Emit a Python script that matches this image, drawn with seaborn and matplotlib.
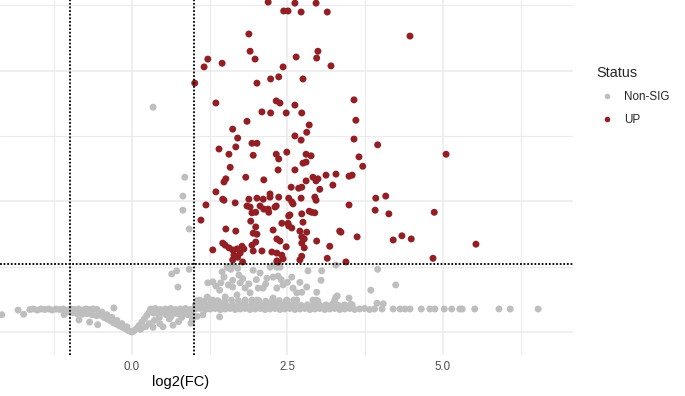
import numpy as np
import pandas as pd
import matplotlib
matplotlib.use("Agg")
import matplotlib.pyplot as plt
import seaborn as sns

# ==========================================
# Data (log2 fold change vs -log10 p)
# ==========================================
up_log2fc = [
    2.19, 2.62, 2.96, 2.44, 2.51, 2.72, 3.14, 1.88, 4.47, 1.90,
    2.99, 1.98, 1.22, 1.45, 1.16, 2.64, 2.97, 2.43, 3.20, 2.36,
    2.23, 2.01, 2.75, 1.01, 1.35, 2.32, 2.38, 2.62, 2.09, 2.23,
    2.48, 2.73, 1.85, 2.85, 1.62, 2.81, 1.70, 2.62, 2.72, 1.93,
    2.01, 1.40, 1.67, 1.56, 1.95, 2.32, 2.49, 2.36, 2.80, 2.88,
    1.58, 2.35, 2.62, 2.75, 2.80, 1.83, 1.51, 1.48, 2.12, 2.80,
    2.91, 2.99, 3.12, 3.28, 3.49, 3.02, 3.23, 2.56, 2.68, 1.35,
    2.22, 2.22, 2.36, 2.52, 1.88, 2.01, 2.11, 2.72, 2.94, 1.46,
    3.57, 3.60, 3.57, 3.95, 3.65, 3.71, 3.54, 3.92, 4.08, 5.05,
    1.48, 1.66, 1.19, 1.90, 1.93, 1.99, 2.06, 2.19, 2.20, 2.32,
    2.57, 2.59, 2.54, 2.51, 2.41, 2.57, 1.11, 1.91, 1.99, 1.51,
    1.67, 1.95, 2.01, 2.27, 2.33, 2.38, 2.48, 2.70, 2.81, 2.77,
    2.73, 2.97, 2.77, 1.30, 1.46, 1.50, 1.56, 1.62, 1.69, 1.77,
    1.80, 1.64, 1.69, 1.70, 1.62, 1.78, 1.93, 1.99, 1.95, 2.09,
    2.25, 2.33, 2.41, 2.43, 2.33, 2.70, 2.73, 2.12, 1.85, 2.30,
    2.52, 2.52, 2.73, 2.75, 2.73, 2.89, 2.94, 3.18, 3.14, 3.34,
    3.44, 2.96, 2.73, 2.96, 3.49, 2.85, 3.91, 4.13, 4.86, 3.36,
    3.62, 4.20, 4.34, 4.49, 4.84, 5.53, 1.74, 2.35,
]
up_neglog10p = [
    6.31, 6.29, 6.29, 6.14, 6.14, 6.12, 6.12, 5.70, 5.66, 5.37,
    5.37, 5.22, 5.22, 5.14, 5.07, 5.26, 5.24, 5.07, 5.09, 4.88,
    4.84, 4.76, 4.84, 4.76, 4.38, 4.42, 4.38, 4.34, 4.21, 4.19,
    4.19, 4.19, 4.03, 3.96, 3.88, 3.82, 3.71, 3.75, 3.67, 3.61,
    3.61, 3.50, 3.54, 3.40, 3.38, 3.40, 3.44, 3.31, 3.40, 3.37,
    3.15, 3.10, 3.10, 3.23, 3.25, 2.96, 2.93, 2.87, 2.91, 2.89,
    2.96, 2.93, 3.00, 3.02, 2.98, 2.73, 2.81, 2.77, 2.75, 2.68,
    2.64, 2.58, 2.58, 2.56, 2.54, 2.56, 2.54, 2.56, 2.58, 2.54,
    4.44, 4.05, 3.69, 3.58, 3.35, 3.17, 3.00, 2.56, 2.60, 3.40,
    2.52, 2.47, 2.43, 2.39, 2.28, 2.29, 2.41, 2.35, 2.29, 2.41,
    2.49, 2.45, 2.24, 2.08, 2.08, 1.99, 2.14, 2.12, 2.01, 1.97,
    1.93, 1.89, 1.87, 1.95, 1.78, 1.74, 1.63, 1.93, 1.91, 1.78,
    1.82, 1.74, 1.61, 1.57, 1.70, 1.66, 1.61, 1.57, 1.59, 1.64,
    1.59, 1.47, 1.45, 1.43, 1.38, 1.34, 1.66, 1.72, 1.55, 1.55,
    1.53, 1.51, 1.47, 1.40, 1.36, 1.38, 1.45, 2.35, 2.41, 2.39,
    2.22, 2.03, 2.26, 2.10, 1.70, 2.29, 2.28, 1.64, 1.41, 1.93,
    1.34, 2.89, 2.77, 2.52, 2.43, 2.31, 2.33, 2.26, 2.29, 1.91,
    1.82, 1.76, 1.84, 1.78, 1.41, 1.68, 1.51, 1.34,
]

# Non-significant genes as (log2FC, -log10 p) pairs
ns_isolated = [(0.34, 4.30), (0.85, 2.96), (0.82, 2.60), (0.82, 2.33), (0.92, 1.97),
               (0.64, 1.11), (0.72, 1.17), (0.92, 1.20), (0.74, 0.86), (-0.29, 0.46)]

ns_left = [(-2.09, 0.33), (-1.83, 0.42), (-1.74, 0.34), (-1.64, 0.43), (-1.58, 0.44),
           (-1.52, 0.42), (-1.46, 0.44), (-1.40, 0.43), (-1.34, 0.44), (-1.28, 0.42),
           (-1.22, 0.44), (-1.16, 0.43), (-1.10, 0.44), (-1.04, 0.42), (-0.98, 0.44),
           (-0.92, 0.43), (-0.86, 0.44), (-0.80, 0.42), (-0.74, 0.44), (-0.68, 0.43),
           (-0.62, 0.44), (-0.56, 0.43), (-1.09, 0.33), (-1.05, 0.38), (-0.85, 0.23),
           (-0.68, 0.19), (-0.55, 0.14), (-0.95, 0.37), (-0.88, 0.35), (-0.80, 0.34)]

ns_valley = [(-0.72, 0.35), (-0.64, 0.33), (-0.57, 0.31), (-0.50, 0.32), (-0.45, 0.28),
             (-0.40, 0.25), (-0.35, 0.22), (-0.30, 0.18), (-0.25, 0.15), (-0.20, 0.12),
             (-0.15, 0.09), (-0.10, 0.06), (-0.06, 0.03), (-0.02, 0.01), (0.00, 0.00),
             (0.03, 0.02), (-0.48, 0.38), (-0.40, 0.33), (-0.32, 0.28), (-0.24, 0.22),
             (-0.16, 0.16), (-0.08, 0.10), (0.07, 0.06), (0.11, 0.12), (0.16, 0.19),
             (0.20, 0.25), (0.24, 0.32), (0.28, 0.38), (0.14, 0.05), (0.22, 0.10),
             (0.34, 0.09), (0.50, 0.10), (0.66, 0.13), (0.95, 0.17), (0.28, 0.16),
             (0.36, 0.22), (0.44, 0.28), (0.55, 0.33), (0.70, 0.36), (0.85, 0.38),
             (0.40, 0.36), (0.60, 0.25), (0.80, 0.28), (0.90, 0.33), (0.97, 0.24),
             (0.45, 0.16), (0.75, 0.20), (1.05, 0.30), (0.52, 0.40), (0.63, 0.30)]

ns_band = [(0.30, 0.44), (0.38, 0.45), (0.46, 0.43), (0.54, 0.44), (0.62, 0.45),
           (0.70, 0.43), (0.78, 0.44), (0.86, 0.45), (0.94, 0.43), (1.02, 0.44),
           (1.10, 0.45), (1.18, 0.43), (1.26, 0.44), (1.34, 0.45), (1.42, 0.43),
           (1.50, 0.44), (1.58, 0.45), (1.66, 0.43), (1.74, 0.44), (1.82, 0.45),
           (1.90, 0.43), (1.98, 0.44), (2.06, 0.45), (2.14, 0.43), (2.22, 0.44),
           (2.30, 0.45), (2.38, 0.43), (2.46, 0.44), (2.54, 0.45), (2.62, 0.43),
           (2.70, 0.44), (2.78, 0.45), (2.86, 0.43), (2.94, 0.44), (3.02, 0.45),
           (3.10, 0.43), (3.18, 0.44), (3.26, 0.45), (3.34, 0.43), (3.42, 0.44),
           (3.50, 0.45), (3.58, 0.43), (3.66, 0.44), (3.74, 0.45), (3.82, 0.43),
           (3.90, 0.44),
           (1.02, 0.52), (1.12, 0.53), (1.22, 0.51), (1.32, 0.52), (1.42, 0.53),
           (1.52, 0.51), (1.62, 0.52), (1.72, 0.53), (1.82, 0.51), (1.92, 0.52),
           (2.02, 0.53), (2.12, 0.51), (2.22, 0.52), (2.32, 0.53), (2.42, 0.51),
           (2.52, 0.52), (2.62, 0.53), (2.72, 0.51), (2.82, 0.52), (2.92, 0.53),
           (3.02, 0.51), (3.12, 0.52), (3.22, 0.53), (3.32, 0.51), (3.42, 0.52),
           (3.52, 0.53),
           (1.05, 0.60), (1.16, 0.59), (1.27, 0.61), (1.38, 0.60), (1.49, 0.59),
           (1.60, 0.61), (1.71, 0.60), (1.82, 0.59), (1.93, 0.61), (2.04, 0.60),
           (2.15, 0.59), (2.26, 0.61), (2.37, 0.60), (2.48, 0.59), (2.60, 0.61),
           (0.35, 0.36), (0.45, 0.35), (0.55, 0.37), (0.65, 0.36), (0.75, 0.35),
           (0.85, 0.37), (0.95, 0.36)]

ns_cloud = [(1.22, 0.94), (1.30, 0.96), (1.43, 0.94), (1.53, 1.24), (1.59, 1.20),
            (1.70, 1.22), (1.72, 1.09), (1.62, 0.99), (1.74, 0.94), (1.82, 0.84),
            (1.62, 0.86), (1.41, 0.80), (1.21, 0.67), (1.30, 0.61), (1.50, 0.67),
            (1.69, 0.71), (1.90, 0.75), (2.06, 1.13), (2.17, 1.03), (2.27, 1.05),
            (2.35, 1.07), (2.33, 1.24), (2.22, 1.24), (2.03, 0.84), (2.11, 0.84),
            (2.33, 0.84), (2.43, 0.90), (2.57, 1.05), (2.59, 0.84), (2.65, 0.75),
            (2.81, 0.86), (2.83, 1.17), (3.04, 0.99), (3.05, 1.17), (2.96, 0.61),
            (3.28, 0.67), (2.01, 0.61), (1.82, 0.61), (2.27, 0.65), (2.49, 0.61),
            (2.65, 0.61), (1.14, 0.33), (1.41, 0.29), (1.09, 0.61), (3.28, 1.28),
            (2.97, 0.76), (2.73, 0.76), (2.91, 0.61), (2.99, 0.59), (3.26, 0.61),
            (3.30, 0.69), (3.49, 0.65), (3.84, 0.80), (3.95, 1.20), (4.24, 0.90),
            (3.94, 0.55), (4.04, 0.54), (3.54, 0.52), (1.62, 1.28), (1.54, 1.24),
            (2.27, 1.28), (2.38, 1.24), (1.35, 0.88), (1.48, 1.05), (1.55, 0.90),
            (1.78, 1.02), (1.88, 0.92), (2.00, 1.00), (2.15, 0.92), (2.40, 1.00),
            (2.50, 0.95), (2.70, 0.95), (1.95, 1.18), (1.45, 1.15)]

ns_tail = [(4.02, 0.44), (4.20, 0.44), (4.31, 0.44), (4.39, 0.44), (4.47, 0.44),
           (4.65, 0.44), (4.79, 0.44), (4.87, 0.44), (5.02, 0.44), (5.14, 0.44),
           (5.27, 0.44), (5.31, 0.44), (5.51, 0.44), (5.90, 0.44), (6.08, 0.44),
           (6.53, 0.44)]

FC_CUT = 1.0
P_CUT = -np.log10(0.05)
STATUS_ORDER = ["Non-SIG", "UP"]
STATUS_COLORS = {"Non-SIG": "#BEBEBE", "UP": "#921F24"}

ns_points = ns_isolated + ns_left + ns_valley + ns_band + ns_cloud + ns_tail
df = pd.DataFrame({
    "log2FC": [p[0] for p in ns_points] + up_log2fc,
    "neglog10p": [p[1] for p in ns_points] + up_neglog10p,
    "Status": ["Non-SIG"] * len(ns_points) + ["UP"] * len(up_log2fc),
})

# ==========================================
# Plot
# ==========================================
sns.set_style("white")
plt.rcParams["font.family"] = ["Liberation Sans", "DejaVu Sans"]

fig = plt.figure(figsize=(6.85, 3.96), dpi=100)
ax = fig.add_axes([0, 0.1035, 0.8365, 0.8965])

sns.scatterplot(data=df, x="log2FC", y="neglog10p", hue="Status",
                hue_order=STATUS_ORDER, palette=STATUS_COLORS,
                s=25, linewidth=0, ax=ax, zorder=3)

# threshold lines
dotted = dict(color="black", lw=1.3, ls=(0, (1, 1)), zorder=4)
ax.axvline(-FC_CUT, **dotted)
ax.axvline(FC_CUT, **dotted)
ax.axhline(P_CUT, **dotted)

ax.set_xlim(-2.12, 7.09)
ax.set_ylim(-0.44, 6.35)
ax.set_xticks([0, 2.5, 5.0], ["0.0", "2.5", "5.0"])
ax.set_xticks([-1.25, 1.25, 3.75, 6.25], minor=True)
ax.set_yticks([0, 2.5, 5.0])
ax.set_yticks([1.25, 3.75, 6.25], minor=True)
ax.grid(which="major", color="#EBEBEB", lw=1.1)
ax.grid(which="minor", color="#EBEBEB", lw=0.8)
ax.set_axisbelow(True)
ax.tick_params(which="both", length=0)
ax.tick_params(axis="x", labelsize=8.3, labelcolor="#4D4D4D", pad=4)
ax.tick_params(axis="y", labelleft=False)
ax.set_ylabel("")
ax.set_xlabel("log2(FC)", fontsize=10.5, color="black")
ax.xaxis.set_label_coords(181 / 573, -0.075)
ax.xaxis.label.set_va("center")
sns.despine(ax=ax, left=True, bottom=True)

sns.move_legend(ax, "upper left", bbox_to_anchor=(596 / 685, 1 - 66 / 396),
                bbox_transform=fig.transFigure, frameon=False, title="Status",
                fontsize=8.4, title_fontsize=10.4, borderpad=0, borderaxespad=0,
                handlelength=1.9, handletextpad=0.5, labelspacing=0.95,
                alignment="left", markerscale=0.8)

fig.savefig("out.png", dpi=100)
